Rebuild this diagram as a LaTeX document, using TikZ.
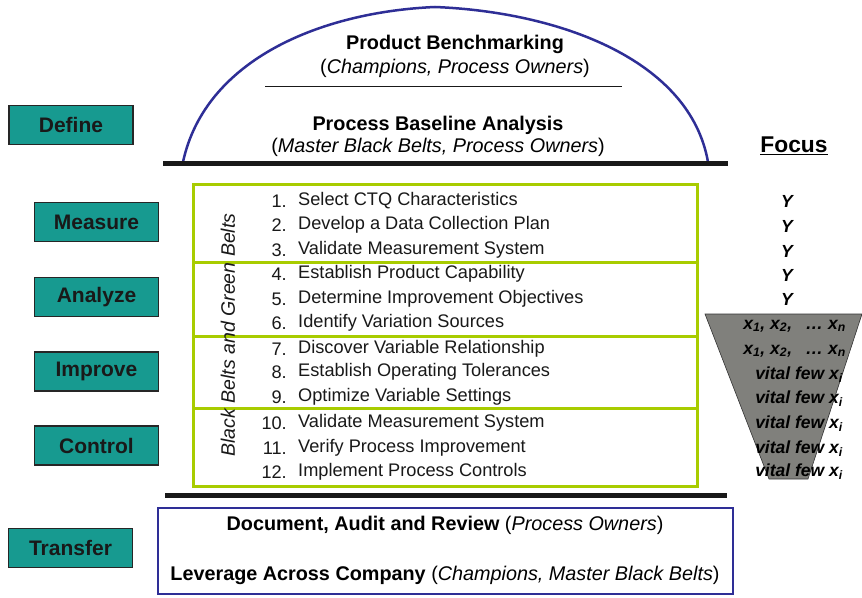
\documentclass[tikz,border=0pt]{standalone}
\usepackage{fontspec}
\setmainfont{Liberation Sans}
\usepackage{xcolor}
\definecolor{phase}{HTML}{179A90}
\definecolor{beltgreen}{HTML}{A8CC00}
\definecolor{archblue}{HTML}{2E2E96}
\definecolor{funnel}{HTML}{80807C}
\tikzset{
  phasebox/.style={draw=black!85, line width=1.2pt, fill=phase, minimum width=124pt, minimum height=39pt, font=\fontsize{21}{24}\selectfont\bfseries, text=black!90},
  stagebox/.style={draw=beltgreen, line width=3pt},
  item/.style={anchor=west, font=\fontsize{18.2}{21}\selectfont, text=black!90, inner sep=0pt},
  num/.style={anchor=east, font=\fontsize{18.2}{21}\selectfont, text=black!90, inner sep=0pt},
  focusy/.style={font=\fontsize{17.5}{20}\selectfont\bfseries\itshape, inner sep=0pt},
  focusx/.style={anchor=east, font=\fontsize{17.5}{20}\selectfont\bfseries\itshape, inner sep=0pt},
  heading/.style={font=\fontsize{19.8}{23}\selectfont\bfseries, inner sep=0pt},
  role/.style={font=\fontsize{19.8}{23}\selectfont, inner sep=0pt},
  thickbar/.style={line width=5pt, black!90},
}
\begin{document}
\begin{tikzpicture}[x=1pt,y=-1pt]
\useasboundingbox (0,0) rectangle (862,597);
\fill[white] (0,0) rectangle (862,597);

% dome over the define phase
\draw[archblue, line width=2.5pt] (183,162) .. controls (205,60) and (320,12) .. (435,7)
  .. controls (560,12) and (690,60) .. (708,162);
\draw[black!90, line width=1pt] (265,86) -- (622,86);
\node[heading] (pb) at (455,44) {Product Benchmarking};
\node[role] (pbr) at (455,68) {(\textit{Champions, Process Owners})};
\node[heading] (pba) at (438,125) {Process Baseline Analysis};
\node[role] (pbar) at (438,147) {(\textit{Master Black Belts, Process Owners})};
\draw[thickbar] (163,163) -- (728,163);

% phase labels
\node[phasebox] (define) at (71,125) {Define};
\node[phasebox] (measure) at (96.5,222) {Measure};
\node[phasebox] (analyze) at (96.5,297) {Analyze};
\node[phasebox] (improve) at (96.5,371.5) {Improve};
\node[phasebox] (control) at (96.5,445.5) {Control};
\node[phasebox] (transfer) at (70.5,548) {Transfer};

% stage frames
\draw[stagebox] (193,184) rectangle (697,262);
\draw[stagebox] (193,262) rectangle (697,336);
\draw[stagebox] (193,336) rectangle (697,408);
\draw[stagebox] (193,408) rectangle (697,486);

\node[rotate=90, font=\fontsize{19.5}{22}\selectfont\itshape, text=black!90] (belts) at (228,335) {Black Belts and Green Belts};

% numbered steps
\foreach \n/\y/\t in {1/201/Select CTQ Characteristics,
                     2/225/Develop a Data Collection Plan,
                     3/250/Validate Measurement System,
                     4/274/Establish Product Capability,
                     5/299/Determine Improvement Objectives,
                     6/323/Identify Variation Sources,
                     7/349/Discover Variable Relationship,
                     8/372/Establish Operating Tolerances,
                     9/397/Optimize Variable Settings,
                     10/423/Validate Measurement System,
                     11/448/Verify Process Improvement,
                     12/472/Implement Process Controls} {
  \node[num] (n\n) at (287,\y) {\n.};
  \node[item] (s\n) at (298,\y) {\t};
}

\draw[thickbar] (165,495) -- (727,495);

% focus column
\node[font=\fontsize{22.8}{26}\selectfont\bfseries] (focus) at (794,146) {\underline{Focus}};
\foreach \i/\y in {1/201,2/226,3/251,4/275,5/299} {
  \node[focusy] (y\i) at (787,\y) {Y};
}
\draw[black!80, fill=funnel, line width=0.6pt] (705,314) -- (862,314) -- (808,479) -- (769,479) -- cycle;
\node[focusx] (fx1) at (846,326) {x\textsubscript{1}, x\textsubscript{2}, \enspace\ldots\ x\textsubscript{n}};
\node[focusx] (fx2) at (846,351) {x\textsubscript{1}, x\textsubscript{2}, \enspace\ldots\ x\textsubscript{n}};
\foreach \i/\y in {1/375,2/399,3/424,4/449,5/472} {
  \node[focusx] (vf\i) at (843,\y) {vital few x\textsubscript{i}};
}

% transfer box
\draw[archblue, line width=2.5pt] (158,508) rectangle (733,594);
\node[role, font=\fontsize{19.8}{23}\selectfont\bfseries] (dar) at (445,525) {Document, Audit and Review \mdseries(\textit{Process Owners})};
\node[role, font=\fontsize{19.8}{23}\selectfont\bfseries] (lac) at (445,575) {Leverage Across Company \mdseries(\textit{Champions, Master Black Belts})};
\end{tikzpicture}
\end{document}
